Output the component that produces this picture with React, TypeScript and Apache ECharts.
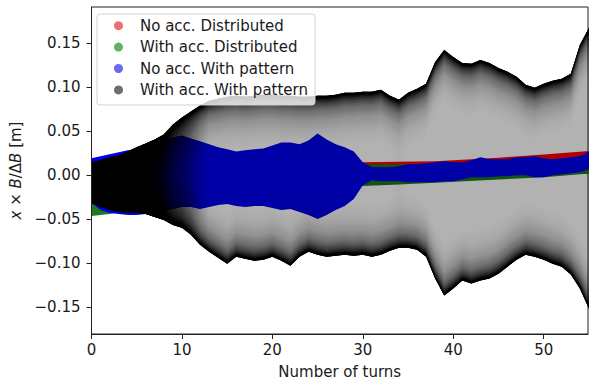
import { useEffect, useRef } from 'react';
import * as echarts from 'echarts';

// ---------- data ----------
const SERIES_NAMES = [
  'No acc. Distributed',
  'With acc. Distributed',
  'No acc. With pattern',
  'With acc. With pattern',
];

const TURNS = [
  0, 1, 2, 3, 4, 5, 6, 7, 8, 9, 10, 11, 12, 13, 14, 15, 16, 17, 18, 19, 20,
  21, 22, 23, 24, 25, 26, 27, 28, 29, 30, 31, 32, 33, 34, 35, 36, 37, 38, 39,
  40, 41, 42, 43, 44, 45, 46, 47, 48, 49, 50, 51, 52, 53, 54, 55, 56,
];

// With acc. With pattern: envelope of the oscillation
const accPatternUpper = [
  0.0147, 0.017, 0.0204, 0.0226, 0.0271, 0.0317, 0.0362, 0.0407, 0.0464, 0.0577,
  0.0656, 0.0724, 0.0792, 0.0848, 0.0871, 0.0893, 0.0905, 0.0893, 0.0905, 0.0916,
  0.0916, 0.0905, 0.0905, 0.0893, 0.0893, 0.0905, 0.0905, 0.0916, 0.0939, 0.0939,
  0.095, 0.095, 0.0973, 0.0905, 0.086, 0.0939, 0.0984, 0.1041, 0.1289, 0.1425,
  0.1346, 0.1278, 0.1267, 0.1312, 0.1278, 0.1221, 0.1176, 0.112, 0.1029, 0.0995,
  0.1041, 0.1074, 0.1097, 0.1154, 0.1482, 0.1674, 0.1742,
];
const accPatternLower = [
  -0.0317, -0.0362, -0.0396, -0.0418, -0.043, -0.043, -0.0441, -0.0475, -0.0509, -0.0566,
  -0.0599, -0.0679, -0.0792, -0.0871, -0.0939, -0.1007, -0.0927, -0.095, -0.0973, -0.0961,
  -0.0927, -0.0973, -0.1029, -0.0927, -0.0871, -0.0905, -0.0927, -0.0916, -0.0905, -0.0916,
  -0.0905, -0.0927, -0.0905, -0.086, -0.0826, -0.0826, -0.0848, -0.0927, -0.1176, -0.1369,
  -0.1289, -0.1199, -0.1233, -0.1199, -0.1176, -0.112, -0.1041, -0.0961, -0.0905, -0.0927,
  -0.0961, -0.1007, -0.1041, -0.1131, -0.1289, -0.1516, -0.1629,
];

// No acc. With pattern
const noAccPatternUpper = [
  0.0192, 0.0215, 0.0238, 0.026, 0.0283, 0.0294, 0.0328, 0.0362, 0.0396, 0.043,
  0.0452, 0.0418, 0.0385, 0.0351, 0.0317, 0.0294, 0.0271, 0.0283, 0.0294, 0.0305,
  0.0339, 0.0373, 0.0373, 0.0351, 0.0396, 0.0475, 0.0407, 0.0351, 0.0317, 0.0271,
  0.0147, 0.009, 0.009, 0.009, 0.0102, 0.0124, 0.0124, 0.0136, 0.0147, 0.0158,
  0.0147, 0.0147, 0.017, 0.0204, 0.0181, 0.0181, 0.0181, 0.0204, 0.0204, 0.0215,
  0.0192, 0.0181, 0.0192, 0.0204, 0.0215, 0.0271, 0.0294,
];
const noAccPatternLower = [
  -0.0317, -0.0396, -0.043, -0.0441, -0.0452, -0.0452, -0.0441, -0.043, -0.0407, -0.0385,
  -0.0362, -0.0362, -0.0385, -0.0362, -0.0339, -0.0328, -0.0351, -0.0362, -0.0351, -0.0351,
  -0.0373, -0.0396, -0.0385, -0.0418, -0.0452, -0.0498, -0.0452, -0.0396, -0.0351, -0.0271,
  -0.0113, -0.0057, -0.0068, -0.0068, -0.0068, -0.0079, -0.0079, -0.0079, -0.0079, -0.0068,
  -0.0068, -0.0045, -0.0023, -0.0023, -0.0023, -0.0011, -0.0011, 0.0, 0.0, -0.0023,
  -0.0023, 0.0, 0.0011, 0.0023, 0.0034, 0.0068, 0.0068,
];

// No acc. Distributed
const DIST_TURNS = [0, 10, 20, 30, 38, 45, 50, 56];
const noAccDistUpper = [0.009, 0.011, 0.013, 0.0147, 0.0158, 0.02, 0.0235, 0.0283];
const noAccDistLower = [-0.0452, -0.035, -0.022, -0.01, -0.006, -0.003, 0.0, 0.003];

// With acc. Distributed
const ACC_DIST_TURNS = [0, 2, 5, 10, 20, 28, 30, 34, 38, 45, 50, 54, 56];
const accDistUpper = [0.01, 0.01, 0.01, 0.01, 0.011, 0.012, 0.0124, 0.0124, 0.013, 0.015, 0.017, 0.019, 0.02];
const accDistLower = [-0.0464, -0.0441, -0.038, -0.03, -0.02, -0.015, -0.0124, -0.0107, -0.0085, -0.005, -0.0023, 0.0011, 0.0023];

const X_TICKS = [0, 10, 20, 30, 40, 50];
const Y_TICKS = [-0.15, -0.1, -0.05, 0, 0.05, 0.1, 0.15];

// ---------- styling ----------
const FONT = 'DejaVu Sans';
const TEXT = '#1a1a1a';
const AXIS = '#222';
const BAND_COLORS = ['#ff0000', '#1b7a1b', '#0000f0'];
const LEGEND_COLORS = ['#f26d6d', '#5fb45f', '#6b6bf0', '#6e6e6e'];
const BASE_ALPHA = 0.3;

// edge shading profile (pixel distance from the envelope -> transmission)
const EDGE_STEP = 1.5;
const EDGE_COUNT = 40;
const edgeT = (d: number) => 1 - 0.985 * Math.exp(-d / 13);
const EDGE_LAYERS: [number, number][] = (() => {
  const tMax = edgeT(EDGE_STEP * EDGE_COUNT);
  const out: [number, number][] = [];
  for (let k = 1; k <= EDGE_COUNT; k++) {
    const t0 = edgeT(EDGE_STEP * (k - 1)) / tMax;
    const t1 = k === EDGE_COUNT ? 1 : edgeT(EDGE_STEP * k) / tMax;
    out.push([EDGE_STEP * k, 1 - t0 / t1]);
  }
  return out;
})();

function rows(xs: number[], lo: number[], hi: number[]) {
  return xs.map((x, i) => [x, lo[i], hi[i]]);
}

function bandRender(xs: number[], lo: number[], hi: number[], fill: string) {
  return (params: any, api: any) => {
    if (params.dataIndex !== 0) return null;
    const top = xs.map((x, i) => api.coord([x, hi[i]]));
    const bot = xs.map((x, i) => api.coord([x, lo[i]]));
    return {
      type: 'polygon',
      silent: true,
      shape: { points: top.concat(bot.slice().reverse()) },
      style: { fill },
    };
  };
}

function shadedRender(xs: number[], lo: number[], hi: number[]) {
  return (params: any, api: any) => {
    if (params.dataIndex !== 0) return null;
    const top = xs.map((x, i) => api.coord([x, hi[i]]));
    const bot = xs.map((x, i) => api.coord([x, lo[i]]));
    const outline = top.concat(bot.slice().reverse());
    const children: any[] = [];
    children.push({
      type: 'polygon',
      silent: true,
      shape: { points: outline },
      style: { fill: `rgba(0,0,0,${BASE_ALPHA})` },
    });
    // dense core where the envelope is narrow: horizontal gradient driven by envelope height
    const x0 = top[0][0];
    const x1 = top[top.length - 1][0];
    const stops = top.map((p: number[], i: number) => {
      const h = bot[i][1] - p[1];
      const f = Math.max(0, Math.min(1, (150 - h) / (150 - 70)));
      return { offset: (p[0] - x0) / (x1 - x0), color: `rgba(0,0,0,${(0.97 * f).toFixed(3)})` };
    });
    children.push({
      type: 'polygon',
      silent: true,
      shape: { points: outline },
      style: { fill: new echarts.graphic.LinearGradient(x0, 0, x1, 0, stops, true) },
    });
    EDGE_LAYERS.forEach(([d, a]) => {
      const innerTop = top.map((p: number[], i: number) => [p[0], Math.min(p[1] + d, bot[i][1])]);
      children.push({
        type: 'polygon',
        silent: true,
        shape: { points: top.concat(innerTop.reverse()) },
        style: { fill: `rgba(0,0,0,${a.toFixed(4)})` },
      });
      const innerBot = bot.map((p: number[], i: number) => [p[0], Math.max(p[1] - d, top[i][1])]);
      children.push({
        type: 'polygon',
        silent: true,
        shape: { points: bot.concat(innerBot.reverse()) },
        style: { fill: `rgba(0,0,0,${a.toFixed(4)})` },
      });
    });
    return { type: 'group', children };
  };
}

const fmtY = (v: number) => v.toFixed(2).replace('-', '\u2212');

export default function App() {
  const ref = useRef<HTMLDivElement>(null);

  useEffect(() => {
    if (!ref.current) return;
    const chart = echarts.init(ref.current, undefined, { renderer: 'svg' });

    const legendY = [25.7, 47.1, 68.5, 89.9];
    const legendGraphics: any[] = [
      {
        type: 'rect',
        z: 100,
        shape: { x: 97, y: 14, width: 218, height: 91, r: 3 },
        style: { fill: 'rgba(255,255,255,0.8)', stroke: '#d0d0d0', lineWidth: 1 },
      },
    ];
    SERIES_NAMES.forEach((name, i) => {
      legendGraphics.push({
        type: 'circle',
        z: 101,
        shape: { cx: 118.5, cy: legendY[i], r: 4.5 },
        style: { fill: LEGEND_COLORS[i] },
      });
      legendGraphics.push({
        type: 'text',
        z: 101,
        x: 140,
        y: legendY[i],
        style: {
          text: name,
          font: `15px "${FONT}"`,
          fill: TEXT,
          verticalAlign: 'middle',
          align: 'left',
        },
      });
    });

    chart.setOption({
      animation: false,
      backgroundColor: '#ffffff',
      grid: {
        left: 91.5,
        top: 7,
        right: 2,
        bottom: 48,
        show: true,
        borderColor: AXIS,
        borderWidth: 1,
        backgroundColor: 'transparent',
      },
      xAxis: {
        type: 'value',
        min: 0,
        max: 54.9,
        z: 10,
        name: 'Number of turns',
        nameLocation: 'middle',
        nameGap: 30,
        nameTextStyle: { fontFamily: FONT, fontSize: 15, color: TEXT },
        axisLine: { show: true, onZero: false, lineStyle: { color: AXIS, width: 1 } },
        axisTick: { show: true, inside: false, length: 5, lineStyle: { color: AXIS }, customValues: X_TICKS },
        axisLabel: {
          customValues: X_TICKS,
          margin: 8,
          fontFamily: FONT,
          fontSize: 15,
          color: TEXT,
          formatter: (v: number) => String(v),
        },
        splitLine: { show: false },
      },
      yAxis: {
        type: 'value',
        min: -0.1807,
        max: 0.1914,
        z: 10,
        name: '{i|x} × {i|B}/Δ{i|B} [m]',
        nameLocation: 'middle',
        nameGap: 64,
        nameTextStyle: {
          fontFamily: FONT,
          fontSize: 15,
          color: TEXT,
          rich: { i: { fontFamily: FONT, fontSize: 15, fontStyle: 'italic', color: TEXT } },
        },
        axisLine: { show: true, onZero: false, lineStyle: { color: AXIS, width: 1 } },
        axisTick: { show: true, inside: false, length: 5, lineStyle: { color: AXIS }, customValues: Y_TICKS },
        axisLabel: {
          customValues: Y_TICKS,
          margin: 11,
          fontFamily: FONT,
          fontSize: 15,
          color: TEXT,
          formatter: fmtY,
        },
        splitLine: { show: false },
      },
      series: [
        {
          name: SERIES_NAMES[0],
          type: 'custom',
          clip: true,
          itemStyle: { color: LEGEND_COLORS[0] },
          encode: { x: 0, y: [1, 2] },
          data: rows(DIST_TURNS, noAccDistLower, noAccDistUpper),
          renderItem: bandRender(DIST_TURNS, noAccDistLower, noAccDistUpper, BAND_COLORS[0]),
        },
        {
          name: SERIES_NAMES[1],
          type: 'custom',
          clip: true,
          itemStyle: { color: LEGEND_COLORS[1] },
          encode: { x: 0, y: [1, 2] },
          data: rows(ACC_DIST_TURNS, accDistLower, accDistUpper),
          renderItem: bandRender(ACC_DIST_TURNS, accDistLower, accDistUpper, BAND_COLORS[1]),
        },
        {
          name: SERIES_NAMES[2],
          type: 'custom',
          clip: true,
          itemStyle: { color: LEGEND_COLORS[2] },
          encode: { x: 0, y: [1, 2] },
          data: rows(TURNS, noAccPatternLower, noAccPatternUpper),
          renderItem: bandRender(TURNS, noAccPatternLower, noAccPatternUpper, BAND_COLORS[2]),
        },
        {
          name: SERIES_NAMES[3],
          type: 'custom',
          clip: true,
          itemStyle: { color: LEGEND_COLORS[3] },
          encode: { x: 0, y: [1, 2] },
          data: rows(TURNS, accPatternLower, accPatternUpper),
          renderItem: shadedRender(TURNS, accPatternLower, accPatternUpper),
        },
      ],
      graphic: legendGraphics,
    });

    return () => chart.dispose();
  }, []);

  return (
    <div
      ref={ref}
      style={{ position: 'fixed', left: 0, top: 0, width: 590, height: 384, background: '#fff' }}
    />
  );
}
